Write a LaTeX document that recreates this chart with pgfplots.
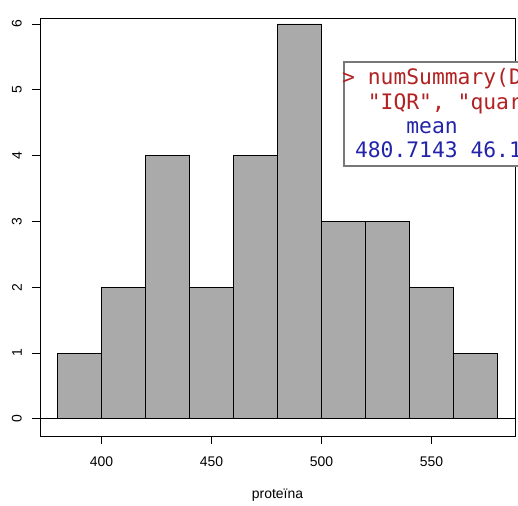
\documentclass[border=0pt]{standalone}
\usepackage{pgfplots}
\pgfplotsset{compat=1.18}
\usepackage{fontspec}
\setmainfont{Liberation Sans}
\setmonofont{DejaVu Sans Mono}
\definecolor{bargray}{RGB}{170,170,170}
\definecolor{rred}{RGB}{178,34,34}
\definecolor{rblue}{RGB}{36,36,170}
\definecolor{boxgray}{RGB}{120,120,120}
\begin{document}
\begin{tikzpicture}[x=1bp,y=1bp]
\path[use as bounding box, clip] (0,0) rectangle (518,-506);
\begin{axis}[
  at={(40bp,-436bp)}, anchor=south west,
  scale only axis, width=475bp, height=418bp,
  xmin=372, xmax=588, ymin=-0.26, ymax=6.09,
  axis line style={line width=0.8bp},
  xtick={400,450,500,550}, ytick={0,1,2,3,4,5,6},
  tick align=outside, major tick length=8bp,
  xtick pos=bottom, ytick pos=left,
  tick style={black, line width=0.8bp},
  ticklabel style={font=\fontsize{14}{16}\selectfont},
  /pgf/number format/assume math mode=true,
  yticklabel style={rotate=90, anchor=south, inner sep=0pt},
  xticklabel style={anchor=north, inner sep=0pt},
  yticklabel shift=10bp,
  xticklabel shift=12.5bp,
  xlabel={proteïna},
  xlabel style={font=\fontsize{14}{16}\selectfont, at={(rel axis cs:0.5,0)}, anchor=center, yshift=-59bp},
]
\addplot[ybar interval, fill=bargray, draw=black, line width=0.8bp] coordinates {(380,1)(400,2)(420,4)(440,2)(460,4)(480,6)(500,3)(520,3)(540,2)(560,1)(580,1)};
\draw[line width=0.8bp] (axis cs:372,0) -- (axis cs:588,0);
\end{axis}
\draw[draw=boxgray, fill=white, line width=2bp] (344,-62) rectangle (560,-166);
\begin{scope}[every node/.style={anchor=base west, inner sep=0pt, font=\fontsize{21.4}{24}\selectfont\ttfamily}]
\node[text=rred] at (342,-85) {> numSummary(D};
\node[text=rred] at (342,-109.3) {\ \ "IQR", "quar};
\node[text=rblue] at (342,-133.3) {\ \ \ \ \ mean};
\node[text=rblue] at (342,-157.7) {\ 480.7143 46.1};
\end{scope}
\end{tikzpicture}
\end{document}
